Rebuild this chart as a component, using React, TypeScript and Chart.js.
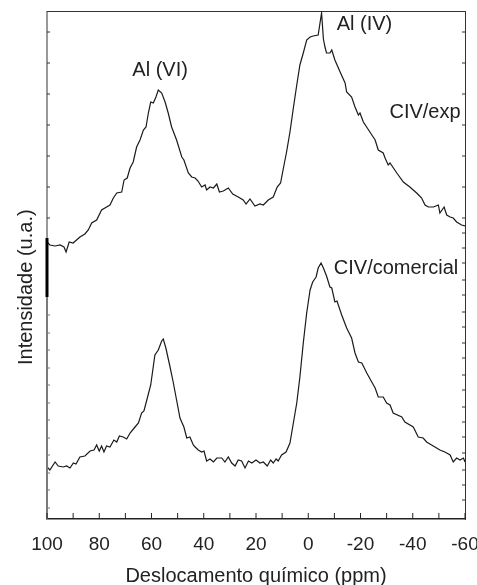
import React, { useEffect, useRef } from "react";
import { Chart, registerables } from "chart.js";

Chart.register(...registerables);

// CIV/exp spectrum (chemical shift in ppm, intensity in a.u.)
const expPpm = [
  100, 98.9, 96.9, 95, 93.5, 92.7, 91.5, 90, 87.4, 85.5, 84.2, 82.9, 81, 79.1, 77.2, 75.9, 74.6, 73.3, 71.4, 70.5,
  69.3, 68.2, 67, 65.7, 64.4, 63.1, 62.1, 61.2, 60.3, 59.3, 58.3, 57.4, 56.1, 54.8, 53.6, 52.3, 50.4, 48.4, 47.6,
  45.9, 44.6, 43.3, 42.2, 40.8, 39.5, 38.9, 37.6, 36.3, 35, 34, 32.5, 30.6, 28.9, 26.8, 24.9, 23.8, 22.3, 20.4,
  18.5, 17.2, 15.3, 13.4, 11.9, 10.6, 9.5, 8.3, 7, 5.7, 4.4, 3.2, 1.9, 0.6, -0.7, -1.9, -3.8, -4.5, -5.1, -5.8,
  -6.4, -7, -8.3, -9, -10.2, -12.2, -14.1, -14.7, -16.6, -17.9, -19.2, -19.8, -21.1, -23.6, -25.6, -26.8, -28.7,
  -29.4, -30.6, -31.3, -33.9, -36.4, -38.9, -41.5, -43.4, -44.7, -46, -47.9, -49.8, -50.4, -52, -53, -54.3, -55.5,
  -56.8, -58.7, -60,
];
const expInt = [
  277, 274, 273, 274, 272, 267, 277, 276, 282, 285, 289, 296, 299, 309, 312, 314, 321, 326, 327, 339,
  341, 351, 357, 372, 379, 389, 392, 406, 417, 416, 422, 429, 426, 417, 406, 392, 379, 362, 359,
  346, 342, 341, 338, 332, 334, 329, 332, 331, 335, 327, 328, 331, 325, 322, 319, 315, 320, 313,
  315, 314, 319, 322, 332, 336, 351, 367, 387, 411, 434, 454, 466, 479, 482, 483, 484, 496, 506, 480,
  472, 466, 466, 469, 459, 447, 436, 427, 422, 412, 404, 406, 397, 387, 379, 369, 366,
  361, 354, 356, 346, 337, 332, 326, 321, 314, 312, 312, 314, 306, 312, 304, 302, 301,
  297, 294, 293,
];

// CIV/comercial spectrum
const comPpm = [
  100, 98.9, 96.9, 95.7, 93.8, 92.5, 91.2, 89.9, 88.9, 87.4, 85.5, 83.5, 82, 81, 80, 79.1, 78.2, 77.2, 75.9, 74.4,
  73.3, 72.3, 70.8, 69.5, 68.2, 66.3, 65, 63.8, 62.9, 61.8, 60.3, 58.7, 57.4, 56.1, 55.5, 54.5, 52.9, 51.7, 50.4,
  49.1, 47.6, 46.5, 45.3, 44, 43.3, 42.1, 40.8, 39.9, 38.9, 37.6, 36.3, 35, 33.1, 31.9, 30.6, 29.3, 28, 26.8, 25.5,
  24.2, 22.9, 21.6, 20, 18.5, 17.2, 15.7, 14.4, 13.4, 12.3, 11.5, 10.2, 8.5, 7, 5.7, 4.4, 3.2, 1.9, 0.6, -0.7, -1.7,
  -3, -3.8, -4.9, -5.8, -7, -8.3, -9, -10.2, -11, -12.8, -14.7, -16.6, -17.9, -19.2, -20.5, -22.4, -24.3, -25.6,
  -26.8, -28.7, -30, -31.3, -32.5, -35.8, -37, -40.2, -42.1, -44, -45.3, -47.2, -48.5, -50.4, -52.3, -54.3, -55.5,
  -56.8, -58.1, -59.4, -60,
];
const comInt = [
  52, 49, 57, 53, 52, 53, 51, 56, 55, 62, 63, 68, 69, 74, 68, 73, 67, 73, 72, 79,
  77, 83, 82, 80, 86, 92, 96, 106, 108, 119, 134, 164, 169, 178, 180, 171, 152, 137, 119,
  101, 92, 81, 82, 74, 72, 69, 67, 68, 58, 60, 57, 61, 61, 57, 62, 56, 53, 59, 58,
  51, 58, 56, 59, 56, 57, 53, 59, 56, 60, 58, 64, 67, 76, 96, 116, 142, 176, 206, 229, 237,
  242, 251, 256, 251, 243, 232, 231, 217, 218, 204, 191, 181, 166, 157, 156, 146, 137, 131,
  122, 122, 116, 114, 106, 102, 97, 92, 82, 81, 77, 74, 72, 69, 67, 64, 57,
  61, 59, 61, 57,
];

// Axis ranges and ticks
const xMin = -60;
const xMax = 100;
const yMin = 0;
const yMax = 508;
const xMajorStep = 20;
const xMinorTicks = [100, 90, 80, 70, 60, 50, 40, 30, 20, 10, 0, -10, -20, -30, -40, -50, -60];
const leftTicksUpper = [487, 456, 425, 394, 363, 332, 301];
const leftTicksLower = [204, 186, 169, 151, 134, 116, 99, 81, 64, 46, 29, 11];
const rightTicksUpper = [487, 456, 425, 394, 363, 332, 301];
const rightTicksLower = [286, 271, 256, 239, 224, 207, 192, 176, 161, 144, 129, 112, 97, 82, 66, 49, 34, 19];
const leftAxisJoin = [281, 222]; // thick joint of the stitched left axis

// In-plot labels
const labelTexts = ["Al (VI)", "Al (IV)", "CIV/exp", "CIV/comercial"];
const labelPpm = [56.7, -21.5, -44.7, -33.6];
const labelInt = [449, 495, 407, 251];

const xTitle = "Deslocamento químico (ppm)";
const yTitle = "Intensidade (u.a.)";

const FONT = "'Liberation Sans', Arial, Helvetica, sans-serif";
const INK = "#222222";

const framePlugin = {
  id: "frame",
  afterDraw(chart: any) {
    const { ctx, chartArea, scales } = chart;
    const xs = scales.x;
    const ys = scales.y;
    const L = chartArea.left;
    const R = chartArea.right;
    const B = chartArea.bottom;
    ctx.save();
    const yTop = ys.getPixelForValue(yMax);
    const yJ1 = ys.getPixelForValue(leftAxisJoin[0]);
    const yJ2 = ys.getPixelForValue(leftAxisJoin[1]);
    const yBot = ys.getPixelForValue(yMin);
    const seg = (x1: number, y1: number, x2: number, y2: number, color: string, w: number) => {
      ctx.strokeStyle = color;
      ctx.lineWidth = w;
      ctx.beginPath();
      ctx.moveTo(x1, y1);
      ctx.lineTo(x2, y2);
      ctx.stroke();
    };
    seg(L, yTop, L, yJ1, "#333333", 1);
    seg(L, yJ1, L, yJ2, "#000000", 3);
    seg(L, yJ2, L, yBot, "#7a7a7a", 2);
    leftTicksUpper.forEach((v) => {
      const p = ys.getPixelForValue(v);
      seg(L, p, L + 3, p, "#333333", 1);
    });
    leftTicksLower.forEach((v) => {
      const p = ys.getPixelForValue(v);
      seg(L, p, L + 3, p, "#7a7a7a", 1);
    });
    [...rightTicksUpper, ...rightTicksLower].forEach((v) => {
      const p = ys.getPixelForValue(v);
      seg(R, p, R - 3, p, "#333333", 1);
    });
    xMinorTicks.forEach((v) => {
      const p = xs.getPixelForValue(v);
      seg(p, B, p, B - 6, "#222222", 1);
    });
    ctx.fillStyle = INK;
    ctx.font = `20px ${FONT}`;
    ctx.textAlign = "center";
    ctx.textBaseline = "middle";
    labelTexts.forEach((t, i) => {
      ctx.fillText(t, xs.getPixelForValue(labelPpm[i]), ys.getPixelForValue(labelInt[i]));
    });
    ctx.restore();
  },
};

export default function App() {
  const canvasRef = useRef<HTMLCanvasElement | null>(null);

  useEffect(() => {
    if (!canvasRef.current) return;
    const toPts = (xs: number[], ys: number[]) => xs.map((x, i) => ({ x, y: ys[i] }));
    const chart = new Chart(canvasRef.current, {
      type: "line",
      data: {
        datasets: [
          {
            label: "CIV/exp",
            data: toPts(expPpm, expInt),
            borderColor: "#1a1a1a",
            borderWidth: 1.2,
            pointRadius: 0,
            tension: 0,
            fill: false,
          },
          {
            label: "CIV/comercial",
            data: toPts(comPpm, comInt),
            borderColor: "#1a1a1a",
            borderWidth: 1.2,
            pointRadius: 0,
            tension: 0,
            fill: false,
          },
        ],
      },
      options: {
        animation: false,
        responsive: true,
        maintainAspectRatio: false,
        layout: { padding: 0 },
        plugins: {
          legend: { display: false },
          tooltip: { enabled: false },
        },
        scales: {
          x: {
            type: "linear",
            position: "bottom",
            reverse: true,
            min: xMin,
            max: xMax,
            grid: { display: false, drawTicks: false },
            border: { display: true, color: "#222222", width: 1.5 },
            ticks: {
              stepSize: xMajorStep,
              color: INK,
              padding: 14,
              maxRotation: 0,
              font: { family: FONT, size: 19 },
            },
            title: {
              display: true,
              text: xTitle,
              color: INK,
              font: { family: FONT, size: 20, lineHeight: 0.9 },
              padding: 0,
            },
            afterFit: (s: any) => {
              s.height = 66;
              s.paddingLeft = 0;
              s.paddingRight = 0;
            },
          },
          x2: {
            type: "linear",
            position: "top",
            reverse: true,
            min: xMin,
            max: xMax,
            grid: { display: false, drawTicks: false },
            border: { display: true, color: "#333333", width: 1 },
            ticks: { display: false },
            afterFit: (s: any) => {
              s.height = 11;
              s.paddingLeft = 0;
              s.paddingRight = 0;
            },
          },
          y: {
            type: "linear",
            position: "left",
            min: yMin,
            max: yMax,
            grid: { display: false, drawTicks: false },
            border: { display: false },
            ticks: { display: false },
            title: {
              display: true,
              text: yTitle + "\u00a0\u00a0\u00a0\u00a0\u00a0\u00a0\u00a0\u00a0",
              color: INK,
              font: { family: FONT, size: 20, lineHeight: 1 },
              padding: { top: 16, bottom: 0 },
            },
            afterFit: (s: any) => {
              s.width = 47;
              s.paddingTop = 0;
              s.paddingBottom = 0;
            },
          },
          y2: {
            type: "linear",
            position: "right",
            min: yMin,
            max: yMax,
            grid: { display: false, drawTicks: false },
            border: { display: true, color: "#333333", width: 1 },
            ticks: { display: false },
            afterFit: (s: any) => {
              s.width = 12;
              s.paddingTop = 0;
              s.paddingBottom = 0;
            },
          },
        },
      },
      plugins: [framePlugin],
    });
    return () => chart.destroy();
  }, []);

  return (
    <div style={{ position: "fixed", left: 0, top: 0, width: 477, height: 585, background: "#ffffff" }}>
      <canvas ref={canvasRef} />
    </div>
  );
}
